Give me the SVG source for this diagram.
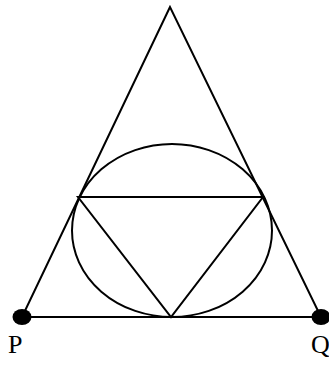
<svg xmlns="http://www.w3.org/2000/svg" width="329" height="365" viewBox="0 0 329 365">
<style>
.ln{fill:none;stroke:#000;stroke-width:2;stroke-linejoin:miter}
.dot{fill:#000}
.lbl{font-family:"Liberation Serif",serif;font-size:26px;fill:#000}
</style>
<rect width="329" height="365" fill="#fff"/>
<g id="connectors">
<polygon class="ln" points="170,7 22,317 321,317"/>
<polygon class="ln" points="78,197 263,197 171,317"/>
</g>
<g id="circle"><ellipse class="ln" cx="172" cy="230.5" rx="100" ry="86.5"/></g>
<g id="P"><ellipse class="dot" cx="22" cy="317" rx="9.5" ry="8"/><text class="lbl" x="8" y="353">P</text></g>
<g id="Q"><ellipse class="dot" cx="321" cy="317" rx="9.5" ry="8"/><text class="lbl" x="311" y="353">Q</text></g>
</svg>
